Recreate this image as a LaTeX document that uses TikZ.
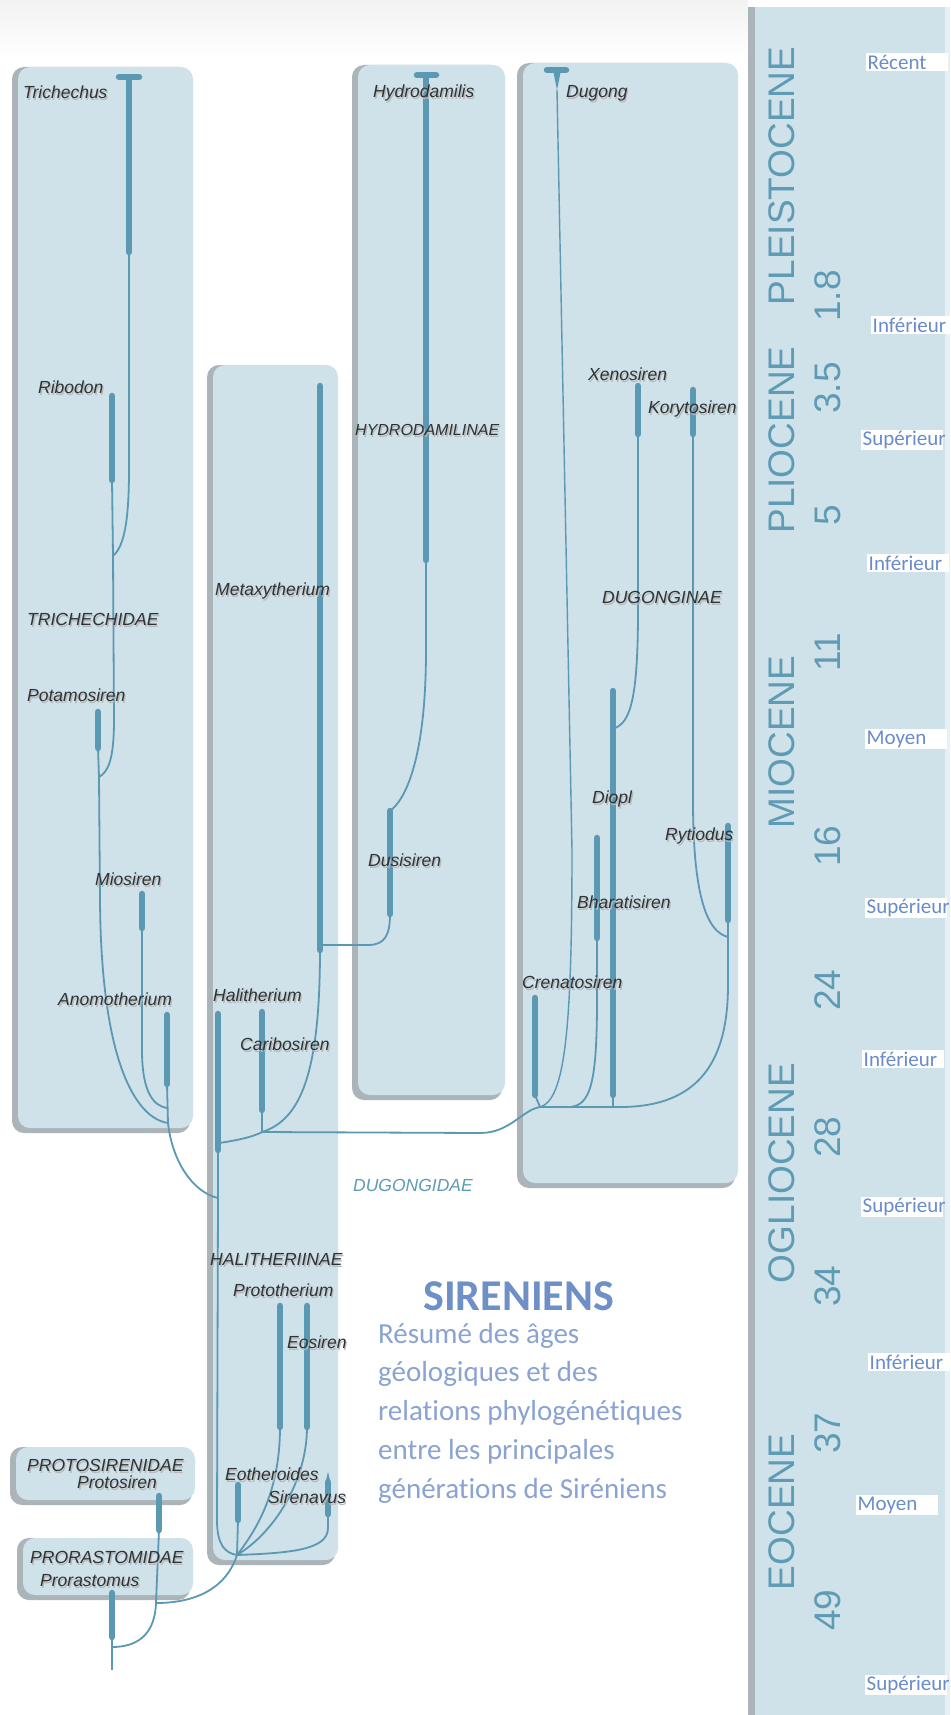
\documentclass[tikz,border=0pt]{standalone}
\usepackage{fontspec}
\setmainfont{Liberation Sans}
\newfontfamily\stagefont[Ligatures=NoCommon]{Carlito}

\definecolor{panelblue}{HTML}{CFE1E9}
\definecolor{panelshade}{HTML}{AAB4B9}
\definecolor{lineagecol}{HTML}{5B98B2}
\definecolor{taxoncol}{HTML}{2C3337}
\definecolor{epochcol}{HTML}{5E9BB5}
\definecolor{stagecol}{HTML}{6A8CC8}
\definecolor{titlecol}{HTML}{6F8FC7}
\definecolor{subtitlecol}{HTML}{8AA3D2}

\begin{document}
\begin{tikzpicture}[x=1pt, y=-1pt,
    panel/.style={fill=panelblue, rounded corners=12pt},
    panelshadow/.style={fill=panelshade, rounded corners=12pt},
    bar/.style={draw=lineagecol, line width=6.5pt, line cap=round},
    branch/.style={draw=lineagecol, line width=1.8pt},
    taxon/.style={text=taxoncol, font=\itshape\fontsize{17.5}{20}\selectfont, anchor=base west, inner sep=0pt},
    taxonshadow/.style={taxon, text=black!28, xshift=1.2pt, yshift=-2pt},
    epoch/.style={text=epochcol, rotate=90, font=\fontsize{37}{40}\selectfont, inner sep=0pt},
    stage/.style={fill=white, text=stagecol, font=\stagefont\fontsize{21}{24}\selectfont, anchor=west,
        inner sep=1.5pt, text width=79pt, align=left},
    subtitle/.style={text=subtitlecol, font=\stagefont\fontsize{29}{32}\selectfont, anchor=base west, inner sep=0pt}]

\useasboundingbox (0,0) rectangle (950,1715);
\fill[white] (0,0) rectangle (950,1715);
\shade[top color=gray!10, bottom color=white] (0,0) rectangle (748,60);

% Panels of the families and subfamilies
\foreach \xa/\ya/\xb/\yb in {12/67/193/1133, 207/365/338/1565, 352/65/505/1100, 517/63/738/1188, 10/1447/195/1505, 17/1538/193/1600}{
    \fill[panelshadow] (\xa,\ya) rectangle (\xb-3,\yb);
    \fill[panel] (\xa+6,\ya) rectangle (\xb,\yb-5);
}

% Time scale column
\fill[panelshade] (748,7) rectangle (756,1715);
\fill[panelblue] (755,7) rectangle (945,1715);
\fill[panelblue!50!white] (945,7) rectangle (950,1715);

% Ranges of the genera
\coordinate (trichechus-capl) at (119,77);
\coordinate (trichechus-capr) at (139,77);
\coordinate (trichechus-top) at (129,80);
\coordinate (trichechus-bot) at (129,252);
\coordinate (ribodon-top) at (112,396);
\coordinate (ribodon-bot) at (112,480);
\coordinate (ribodon-j) at (113,556);
\coordinate (potamosiren-top) at (98,712);
\coordinate (potamosiren-bot) at (98,748);
\coordinate (potamosiren-j) at (99,777);
\coordinate (miosiren-top) at (142,894);
\coordinate (miosiren-bot) at (142,928);
\coordinate (anomotherium-top) at (167,1015);
\coordinate (anomotherium-bot) at (167,1084);
\coordinate (miosiren-j) at (167,1108);
\coordinate (trichechidae-j) at (168,1123);

\coordinate (halitherium-top) at (218,1014);
\coordinate (halitherium-bot) at (218,1150);
\coordinate (halitherium-k) at (219,1143);
\coordinate (trunk-j) at (218,1198);
\coordinate (caribosiren-top) at (262,1012);
\coordinate (caribosiren-bot) at (262,1110);
\coordinate (caribosiren-j) at (262,1132);
\coordinate (metaxytherium-top) at (320,386);
\coordinate (metaxytherium-bot) at (320,950);
\coordinate (metaxytherium-k) at (320,945);

\coordinate (hydrodamalis-capl) at (417,75);
\coordinate (hydrodamalis-capr) at (436,75);
\coordinate (hydrodamalis-top) at (426,78);
\coordinate (hydrodamalis-bot) at (426,560);
\coordinate (dusisiren-top) at (390,811);
\coordinate (dusisiren-bot) at (390,914);

\coordinate (dugong-capl) at (547,70);
\coordinate (dugong-capr) at (566,70);
\coordinate (dugong-bot) at (557,90);
\coordinate (dugonginae-j) at (540,1107);
\coordinate (crenatosiren-top) at (535,998);
\coordinate (crenatosiren-bot) at (535,1095);
\coordinate (bharatisiren-top) at (597,838);
\coordinate (bharatisiren-bot) at (597,938);
\coordinate (bharatisiren-j) at (570,1107);
\coordinate (diopl-top) at (613,691);
\coordinate (diopl-bot) at (613,1095);
\coordinate (diopl-k) at (615,728);
\coordinate (diopl-j) at (613,1107);
\coordinate (xenosiren-top) at (638,386);
\coordinate (xenosiren-bot) at (638,434);
\coordinate (korytosiren-top) at (693,390);
\coordinate (korytosiren-bot) at (693,434);
\coordinate (rytiodus-top) at (728,826);
\coordinate (rytiodus-bot) at (728,920);
\coordinate (rytiodus-j) at (728,937);

\coordinate (prototherium-top) at (280,1306);
\coordinate (prototherium-bot) at (280,1427);
\coordinate (eosiren-top) at (307,1306);
\coordinate (eosiren-bot) at (307,1427);
\coordinate (eotheroides-top) at (238,1485);
\coordinate (eotheroides-bot) at (238,1520);
\coordinate (sirenavus-top) at (328,1482);
\coordinate (sirenavus-bot) at (328,1514);
\coordinate (eotheroides-j) at (237,1555);
\coordinate (protosiren-top) at (159,1496);
\coordinate (protosiren-bot) at (159,1530);
\coordinate (protosiren-j) at (156,1603);
\coordinate (prorastomus-top) at (112,1593);
\coordinate (prorastomus-bot) at (112,1637);
\coordinate (prorastomus-j) at (112,1647);
\coordinate (root) at (112,1670);

% Lineages: Trichechidae
\draw[branch] (trichechus-bot) -- (129,470) .. controls (129,530) and (122,548) .. (ribodon-j);
\draw[branch] (ribodon-bot) -- (ribodon-j) -- (114,720) .. controls (114,760) and (108,772) .. (potamosiren-j);
\draw[branch] (potamosiren-bot) -- (potamosiren-j) -- (100,900) .. controls (101,1060) and (135,1118) .. (trichechidae-j);
\draw[branch] (miosiren-bot) -- (142,1050) .. controls (142,1095) and (155,1106) .. (miosiren-j);
\draw[branch] (anomotherium-bot) -- (trichechidae-j) .. controls (172,1160) and (192,1192) .. (trunk-j);

% Lineages: Dugongidae
\draw[branch] (halitherium-bot) -- (trunk-j) -- (217,1520) .. controls (217,1545) and (225,1553) .. (eotheroides-j);
\draw[branch] (halitherium-k) .. controls (240,1140) and (255,1136) .. (caribosiren-j) -- (caribosiren-bot);
\draw[branch] (metaxytherium-bot) .. controls (320,1075) and (300,1120) .. (caribosiren-j);
\draw[branch] (caribosiren-j) -- (480,1133) .. controls (510,1133) and (522,1110) .. (dugonginae-j);

% Lineages: Hydrodamalinae
\draw[branch] (metaxytherium-k) -- (368,945) .. controls (385,945) and (390,935) .. (dusisiren-bot);
\draw[branch] (hydrodamalis-bot) -- (426,650) .. controls (426,760) and (405,800) .. (dusisiren-top);

% Lineages: Dugonginae
\draw[branch] (crenatosiren-bot) -- (dugonginae-j);
\draw[branch, line width=1.4pt] (dugong-bot) -- (572,850) .. controls (572,1030) and (565,1100) .. (dugonginae-j);
\draw[branch] (bharatisiren-bot) -- (597,1000) .. controls (597,1085) and (590,1105) .. (bharatisiren-j);
\draw[branch] (diopl-bot) -- (diopl-j);
\draw[branch] (dugonginae-j) -- (diopl-j) -- (620,1107) .. controls (700,1107) and (728,1060) .. (728,985) -- (rytiodus-j);
\draw[branch] (rytiodus-bot) -- (rytiodus-j);
\draw[branch] (korytosiren-bot) -- (693,800) .. controls (693,900) and (708,932) .. (rytiodus-j);
\draw[branch] (xenosiren-bot) -- (638,610) .. controls (638,700) and (630,722) .. (diopl-k);

% Lineages: the first sirenians
\draw[branch] (eotheroides-bot) -- (eotheroides-j);
\draw[branch] (prototherium-bot) .. controls (280,1490) and (258,1528) .. (eotheroides-j);
\draw[branch] (eosiren-bot) .. controls (307,1480) and (275,1532) .. (eotheroides-j);
\draw[branch] (sirenavus-bot) -- (328,1528) .. controls (328,1550) and (290,1553) .. (eotheroides-j);
\draw[branch] (eotheroides-j) .. controls (225,1592) and (190,1603) .. (protosiren-j);
\draw[branch] (protosiren-bot) -- (protosiren-j) .. controls (155,1632) and (140,1647) .. (prorastomus-j);
\draw[branch] (prorastomus-bot) -- (root);

% Bars
\foreach \genus in {trichechus, ribodon, potamosiren, miosiren, anomotherium, halitherium,
    caribosiren, metaxytherium, hydrodamalis, dusisiren, crenatosiren, bharatisiren, diopl,
    xenosiren, korytosiren, rytiodus, prototherium, eosiren, eotheroides, sirenavus,
    protosiren, prorastomus}
    \draw[bar] (\genus-top) -- (\genus-bot);
\fill[lineagecol] (325,1485) -- (328,1472) -- (331,1485) -- cycle; % pointed tip of Sirenavus

% Living genera
\foreach \genus in {trichechus, hydrodamalis, dugong}
    \draw[bar] (\genus-capl) -- (\genus-capr);
\fill[lineagecol] (553,70) -- (561,70) -- (dugong-bot) -- cycle;

% Names of the genera
\foreach \xpos/\ypos/\name in {23/86/Trichechus, 373/85/Hydrodamilis, 566/85/Dugong,
    38/380/Ribodon, 588/367/Xenosiren, 648/400/Korytosiren, 215/582/Metaxytherium,
    27/688/Potamosiren, 592/790/Diopl, 665/827/Rytiodus, 95/872/Miosiren,
    368/853/Dusisiren, 577/895/Bharatisiren, 58/992/Anomotherium, 213/988/Halitherium,
    522/975/Crenatosiren, 240/1037/Caribosiren, 233/1283/Prototherium, 287/1335/Eosiren,
    225/1467/Eotheroides, 268/1490/Sirenavus, 77/1475/Protosiren, 40/1573/Prorastomus}{
    \node[taxonshadow] (\name-shadow) at (\xpos,\ypos+13) {\name};
    \node[taxon] (\name) at (\xpos,\ypos+13) {\name};
}

% Names of the families
\foreach \xpos/\ypos/\name in {27/612/TRICHECHIDAE, 602/590/DUGONGINAE,
    210/1252/HALITHERIINAE, 27/1458/PROTOSIRENIDAE, 30/1550/PRORASTOMIDAE}{
    \node[taxonshadow] (\name-shadow) at (\xpos,\ypos+13) {\name};
    \node[taxon] (\name) at (\xpos,\ypos+13) {\name};
}
\node[taxonshadow, font=\itshape\fontsize{16}{18}\selectfont] (HYDRODAMILINAE-shadow) at (355,435) {HYDRODAMILINAE};
\node[taxon, font=\itshape\fontsize{16}{18}\selectfont] (HYDRODAMILINAE) at (355,435) {HYDRODAMILINAE};
\node[taxon, text=epochcol] (DUGONGIDAE) at (353,1191) {DUGONGIDAE};

% Time scale
\foreach \ypos/\epoch in {176/PLEISTOCENE, 440/PLIOCENE, 742/MIOCENE, 1173/OGLIOCENE, 1512/EOCENE}
    \node[epoch] (\epoch) at (782,\ypos) {\epoch};
\foreach \ypos/\age [count=\i] in {296/1.8, 388/3.5, 515/5, 652/11, 846/16, 990/24,
    1137/28, 1286/34, 1433/37, 1610/49}
    \node[epoch] (age-\i) at (828,\ypos) {\age};
\foreach \xpos/\ypos/\stage [count=\i] in {866/62/Récent, 871/325/Inférieur,
    861/440/Supérieur, 867/563/Inférieur, 865/739/Moyen, 865/908/Supérieur,
    862/1059/Inférieur, 861/1207/Supérieur, 868/1362/Inférieur, 856/1505/Moyen,
    865/1685/Supérieur}
    \node[stage] (stage-\i) at (\xpos,\ypos) {\stage};

% Title
\node[anchor=base west, inner sep=0pt, text=titlecol,
    font=\stagefont\bfseries\fontsize{44}{48}\selectfont] (title) at (423,1310) {SIRENIENS};
\foreach \sentence [count=\i] in {Résumé des âges, géologiques et des,
    relations phylogénétiques, entre les principales, générations de Siréniens}
    \node[subtitle] (subtitle-\i) at (378,{1304.2+38.8*\i}) {\sentence};

\end{tikzpicture}
\end{document}
